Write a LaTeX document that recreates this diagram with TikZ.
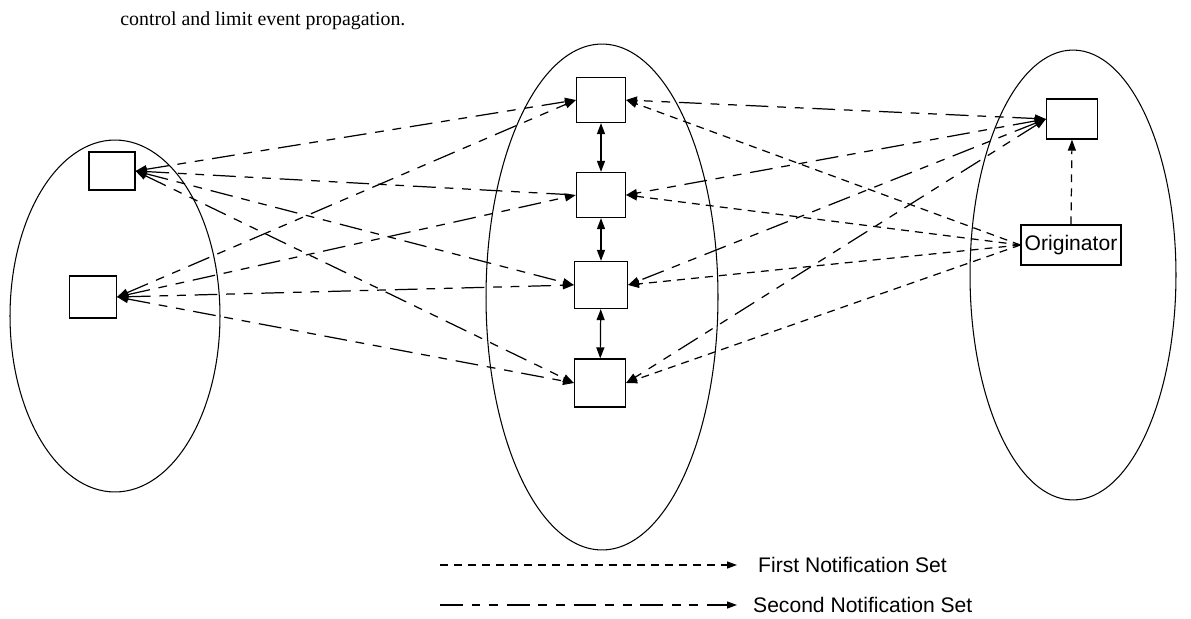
\documentclass[tikz,border=0pt]{standalone}
\usepackage{fontspec}
\setmainfont{Liberation Serif}
\setsansfont{Liberation Sans}
\usetikzlibrary{arrows.meta,positioning}

\begin{document}
\begin{tikzpicture}[x=0.02cm,y=-0.02cm,>={Triangle[length=2.2mm,width=1.6mm]},
  font=\sffamily\fontsize{12}{14}\selectfont,
  ring/.style={draw,line width=0.6pt},
  peer/.style={draw,line width=0.7pt,minimum width=0.98cm,minimum height=0.9cm,inner sep=0pt},
  first/.style={line width=0.7pt,dash pattern=on 4.5pt off 3.5pt},
  second/.style={line width=0.7pt,dash pattern=on 13pt off 5pt on 5pt off 5pt on 5pt off 5pt},
  link/.style={line width=0.7pt}]
  \useasboundingbox (0,0) rectangle (1191,619);

  \node[anchor=base west,inner sep=0pt,font=\rmfamily\fontsize{11.3}{13}\selectfont] (caption) at (120,25)
    {control and limit event propagation.};

  % the three rings
  \draw[ring] (115,316) ellipse [x radius=2.1cm,y radius=3.52cm];
  \draw[ring] (602,297) ellipse [x radius=2.32cm,y radius=5.06cm];
  \draw[ring] (1073,275) ellipse [x radius=2.06cm,y radius=4.5cm];

  % peers
  \node[peer,minimum width=0.92cm,minimum height=0.76cm] (L1) at (112,171) {};
  \node[peer,minimum width=0.94cm,minimum height=0.84cm] (L2) at (93,297) {};
  \node[peer] (M1) at (601,100) {};
  \node[peer] (M2) at (601,195) {};
  \node[peer,minimum width=1.06cm,minimum height=0.94cm] (M3) at (601,285) {};
  \node[peer,minimum width=1.02cm,minimum height=0.96cm] (M4) at (600,383) {};
  \node[peer,minimum width=1.02cm,minimum height=0.8cm] (R1) at (1072,119) {};
  \node[peer,minimum width=2.0cm,minimum height=0.8cm] (O) at (1071,245) {Originator};

  % inside the middle ring
  \draw[link,<->] (M1) -- (M2);
  \draw[link,<->] (M2) -- (M3);
  \draw[link,<->] (M3) -- (M4);

  % first set, straight from the originator
  \foreach \i in {1,...,4}
    \draw[first,->] (O.west) -- (M\i.east);
  \draw[first,->] (O.north) -- (R1.south);

  % second set
  \foreach \i in {1,...,4}
    \draw[second,<->] (R1.west) -- (M\i.east);
  \foreach \i in {1,3,4}
    \draw[second,<->] (L1.east) -- (M\i.west);
  \draw[second,<-] (L1.east) -- (M2.west);
  \foreach \i in {1,...,4}
    \draw[second,<->] (L2.east) -- (M\i.west);

  % legend
  \coordinate (fa) at (440,565);
  \coordinate (fb) at (737,565);
  \coordinate (sa) at (440,605);
  \coordinate (sb) at (737,605);
  \draw[first,->,>={Triangle[length=2mm,width=1.4mm]}] (fa) -- (fb);
  \draw[second,->,>={Triangle[length=2mm,width=1.4mm]}] (sa) -- (sb);
  \node[right=0.3cm of fb] (firstlbl) {First Notification Set};
  \node[right=0.2cm of sb] (secondlbl) {Second Notification Set};
\end{tikzpicture}
\end{document}
